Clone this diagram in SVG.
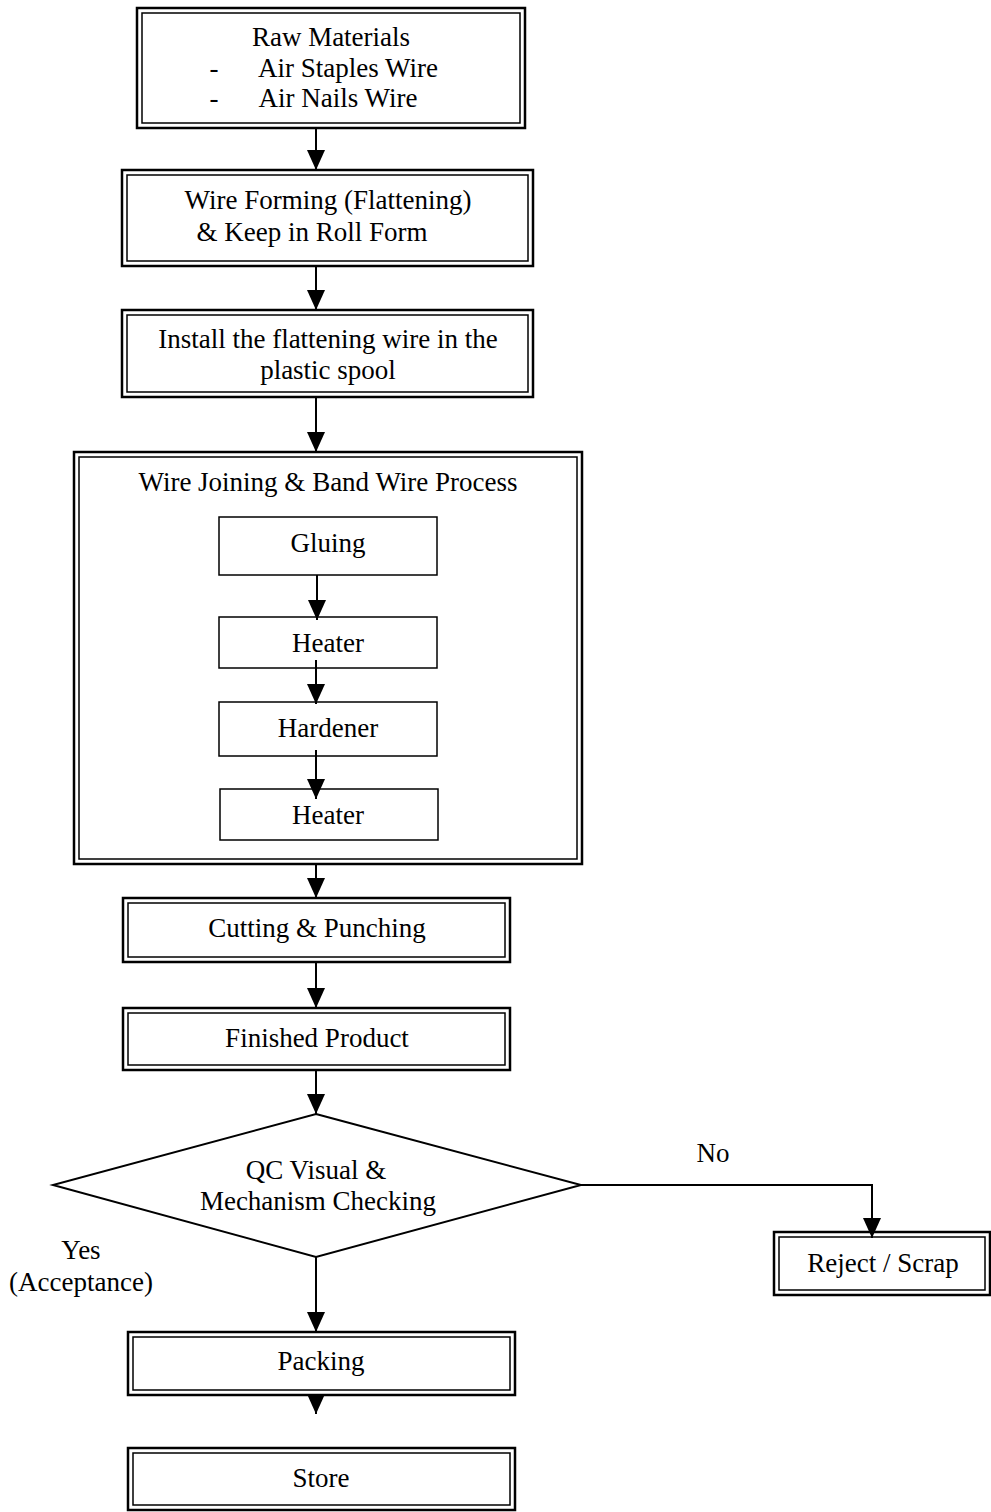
<svg xmlns="http://www.w3.org/2000/svg" width="991" height="1512" viewBox="0 0 991 1512">
<defs>
<marker id="ah" markerWidth="20" markerHeight="18" refX="20" refY="9" orient="auto" markerUnits="userSpaceOnUse" viewBox="0 0 20 18">
<path d="M0,0 L20,9 L0,18 Z" fill="#000"/>
</marker>
</defs>
<style>
.o{fill:#fff;stroke:#000;stroke-width:2.5}
.i{fill:none;stroke:#000;stroke-width:1.5}
.s{fill:#fff;stroke:#000;stroke-width:1.5}
.c{fill:none;stroke:#000;stroke-width:2}
</style>
<rect width="991" height="1512" fill="#fff"/>
<g font-family="'Liberation Serif', 'Times New Roman', serif" font-size="27" text-anchor="middle" fill="#000">
<g id="raw-materials">
<rect class="o" x="137" y="8" width="388" height="120"/>
<rect class="i" x="142" y="13" width="378" height="110"/>
<text x="331" y="46">Raw Materials</text>
<text x="214" y="77">-</text>
<text x="348" y="77">Air Staples Wire</text>
<text x="214" y="107">-</text>
<text x="338" y="107">Air Nails Wire</text>
</g>
<g id="wire-forming">
<rect class="o" x="122" y="170" width="411" height="96"/>
<rect class="i" x="127" y="175" width="401" height="86"/>
<text x="328" y="209">Wire Forming (Flattening)</text>
<text x="312" y="241">&amp; Keep in Roll Form</text>
</g>
<g id="install">
<rect class="o" x="122" y="310" width="411" height="87"/>
<rect class="i" x="127" y="315" width="401" height="77"/>
<text x="328" y="348">Install the flattening wire in the</text>
<text x="328" y="379">plastic spool</text>
</g>
<g id="wire-joining">
<rect class="o" x="74" y="452" width="508" height="412"/>
<rect class="i" x="79" y="457" width="498" height="402"/>
<text x="328" y="491">Wire Joining &amp; Band Wire Process</text>
</g>
<g id="gluing">
<rect class="s" x="219" y="517" width="218" height="58"/>
<text x="328" y="552">Gluing</text>
</g>
<g id="heater1">
<rect class="s" x="219" y="617" width="218" height="51"/>
<text x="328" y="652">Heater</text>
</g>
<g id="hardener">
<rect class="s" x="219" y="702" width="218" height="54"/>
<text x="328" y="737">Hardener</text>
</g>
<g id="heater2">
<rect class="s" x="220" y="789" width="218" height="51"/>
<text x="328" y="824">Heater</text>
</g>
<g id="cutting">
<rect class="o" x="123" y="898" width="387" height="64"/>
<rect class="i" x="128" y="903" width="377" height="54"/>
<text x="317" y="937">Cutting &amp; Punching</text>
</g>
<g id="finished">
<rect class="o" x="123" y="1008" width="387" height="62"/>
<rect class="i" x="128" y="1013" width="377" height="52"/>
<text x="317" y="1047">Finished Product</text>
</g>
<g id="qc">
<polygon points="316,1114 581,1185 316,1257 53,1185" fill="#fff" stroke="#000" stroke-width="2"/>
<text x="316" y="1179">QC Visual &amp;</text>
<text x="318" y="1210">Mechanism Checking</text>
</g>
<g id="labels">
<text x="713" y="1162">No</text>
<text x="81" y="1259">Yes</text>
<text x="81" y="1291">(Acceptance)</text>
</g>
<g id="reject">
<rect class="o" x="774" y="1232" width="216" height="63"/>
<rect class="i" x="779" y="1237" width="206" height="53"/>
<text x="883" y="1272">Reject / Scrap</text>
</g>
<g id="packing">
<rect class="o" x="128" y="1332" width="387" height="63"/>
<rect class="i" x="133" y="1337" width="377" height="53"/>
<text x="321" y="1370">Packing</text>
</g>
<g id="store">
<rect class="o" x="128" y="1448" width="387" height="62"/>
<rect class="i" x="133" y="1453" width="377" height="52"/>
<text x="321" y="1487">Store</text>
</g>
</g>
<g id="connectors">
<line class="c" x1="316" y1="128" x2="316" y2="170" marker-end="url(#ah)"/>
<line class="c" x1="316" y1="266" x2="316" y2="310" marker-end="url(#ah)"/>
<line class="c" x1="316" y1="397" x2="316" y2="452" marker-end="url(#ah)"/>
<line class="c" x1="317" y1="575" x2="317" y2="620" marker-end="url(#ah)"/>
<line class="c" x1="316" y1="660" x2="316" y2="704" marker-end="url(#ah)"/>
<line class="c" x1="316" y1="750" x2="316" y2="799" marker-end="url(#ah)"/>
<line class="c" x1="316" y1="864" x2="316" y2="898" marker-end="url(#ah)"/>
<line class="c" x1="316" y1="962" x2="316" y2="1008" marker-end="url(#ah)"/>
<line class="c" x1="316" y1="1070" x2="316" y2="1114" marker-end="url(#ah)"/>
<polyline class="c" points="581,1185 872,1185 872,1238" marker-end="url(#ah)"/>
<line class="c" x1="316" y1="1257" x2="316" y2="1332" marker-end="url(#ah)"/>
<line class="c" x1="316" y1="1395" x2="316" y2="1414" marker-end="url(#ah)"/>
</g>
</svg>
